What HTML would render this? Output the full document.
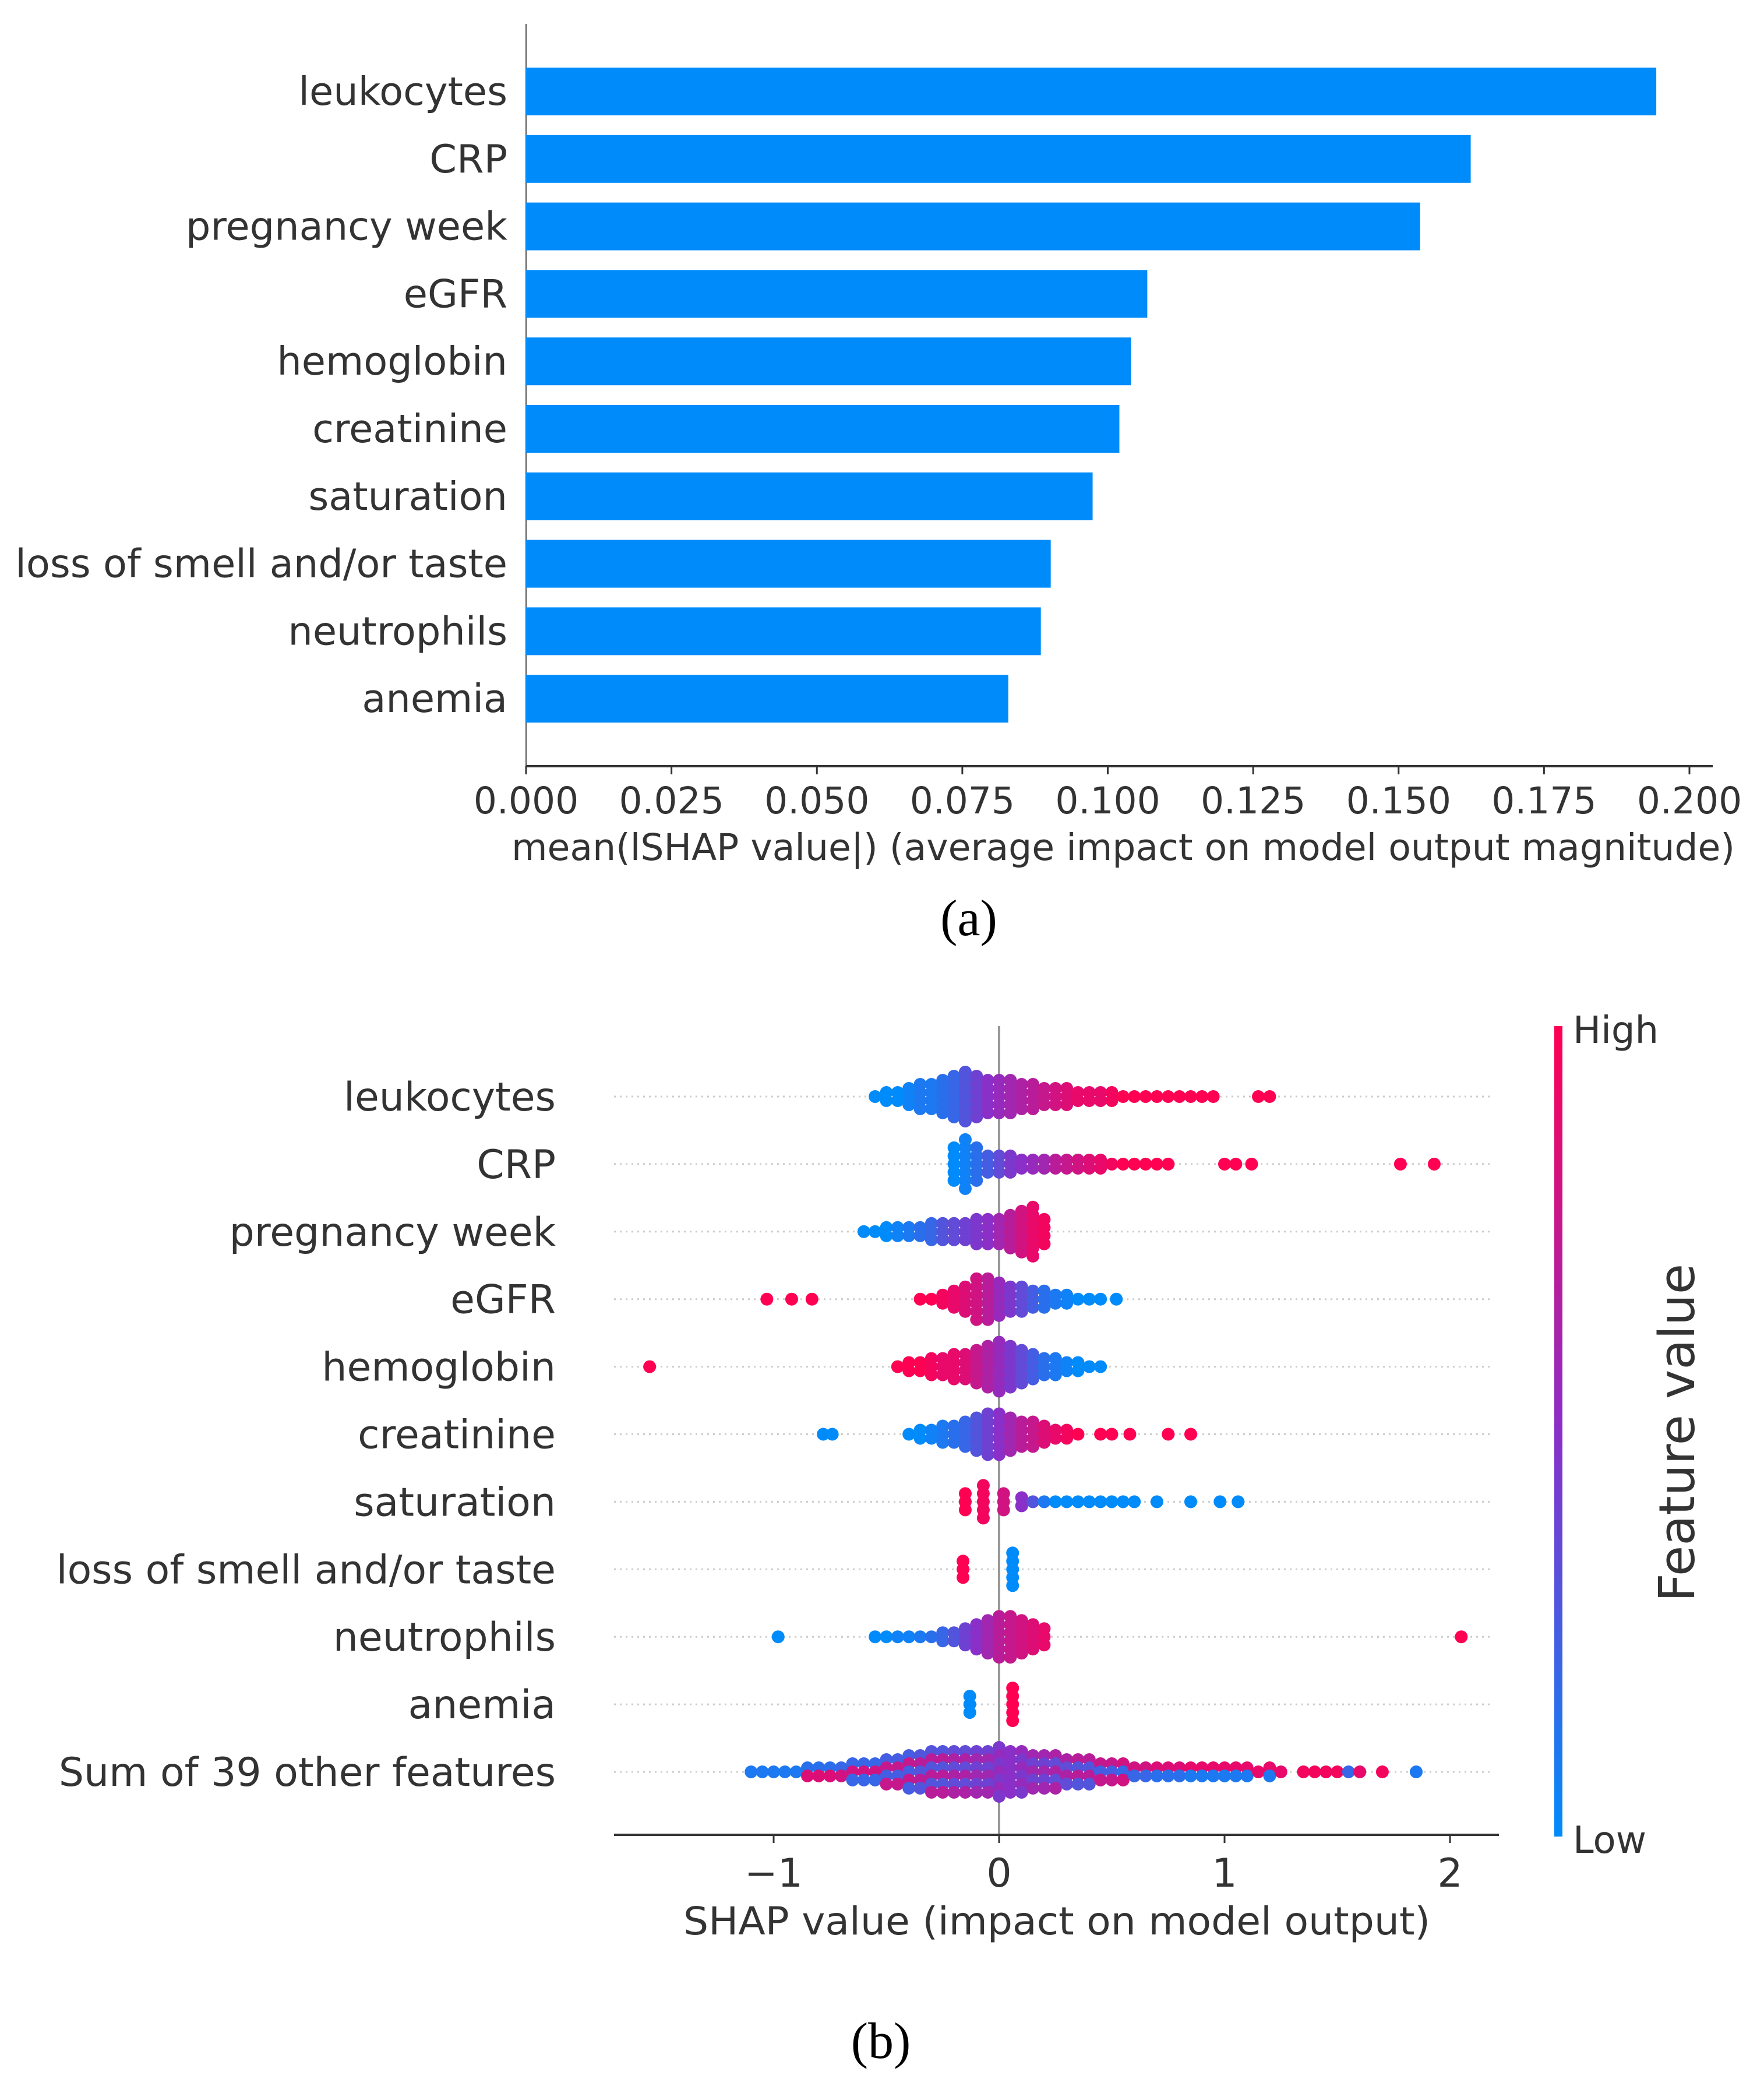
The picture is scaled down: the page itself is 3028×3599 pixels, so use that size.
<!DOCTYPE html>
<html><head><meta charset="utf-8">
<style>
html,body{margin:0;padding:0;background:#fff;}
svg{display:block;}
text{font-family:"DejaVu Sans","Liberation Sans",sans-serif;fill:#333;}
.serif{font-family:"Liberation Serif",serif;fill:#000;}
</style></head>
<body>
<svg id="fig" width="3028" height="3599" viewBox="0 0 3028 3599" xmlns="http://www.w3.org/2000/svg">
<defs>
<linearGradient id="cbar" x1="0" y1="1" x2="0" y2="0">
<stop offset="0" stop-color="rgb(0,139,251)"/>
<stop offset="0.5" stop-color="rgb(138,47,200)"/>
<stop offset="1" stop-color="rgb(255,0,82)"/>
</linearGradient>
</defs>
<g id="barChart"></g>
<g id="swarmChart"></g>
<text class="serif" x="1663" y="1605" font-size="88" text-anchor="middle">(a)</text>
<text class="serif" x="1512" y="3532" font-size="88" text-anchor="middle">(b)</text>
</svg>
<script>
// ---------- Panel (a) data ----------
const barFeatures = ["leukocytes","CRP","pregnancy week","eGFR","hemoglobin","creatinine","saturation","loss of smell and/or taste","neutrophils","anemia"];
const barValues = [0.1943,0.1624,0.1537,0.1068,0.1040,0.1020,0.0974,0.0902,0.0885,0.0829];
const barTicks = [0,0.025,0.05,0.075,0.1,0.125,0.15,0.175,0.2];
const barTickLabels = ["0.000","0.025","0.050","0.075","0.100","0.125","0.150","0.175","0.200"];

// ---------- Panel (b) data ----------
const swarmFeatures = ["leukocytes","CRP","pregnancy week","eGFR","hemoglobin","creatinine","saturation","loss of smell and/or taste","neutrophils","anemia","Sum of 39 other features"];
const swarmTicks = [-1,0,1,2];
const swarmTickLabels = ["\u22121","0","1","2"];
// each row: shap x bins, stack counts, feature value colour (0 low .. 1 high)
const rowX = [
 [-0.55,-0.5,-0.45,-0.4,-0.35,-0.3,-0.25,-0.2,-0.15,-0.1,-0.05,0,0.05,0.1,0.15,0.2,0.25,0.3,0.35,0.4,0.45,0.5,0.55,0.6,0.65,0.7,0.75,0.8,0.85,0.9,0.95,1.15,1.2],
 [-0.2,-0.15,-0.1,-0.05,0,0.05,0.1,0.15,0.2,0.25,0.3,0.35,0.4,0.45,0.5,0.55,0.6,0.65,0.7,0.75,1.0,1.05,1.12,1.78,1.93],
 [-0.6,-0.55,-0.5,-0.45,-0.4,-0.35,-0.3,-0.25,-0.2,-0.15,-0.1,-0.05,0,0.05,0.1,0.15,0.2],
 [-1.03,-0.92,-0.83,-0.35,-0.3,-0.25,-0.2,-0.15,-0.1,-0.05,0,0.05,0.1,0.15,0.2,0.25,0.3,0.35,0.4,0.45,0.52],
 [-1.55,-0.45,-0.4,-0.35,-0.3,-0.25,-0.2,-0.15,-0.1,-0.05,0,0.05,0.1,0.15,0.2,0.25,0.3,0.35,0.4,0.45],
 [-0.78,-0.74,-0.4,-0.35,-0.3,-0.25,-0.2,-0.15,-0.1,-0.05,0,0.05,0.1,0.15,0.2,0.25,0.3,0.35,0.45,0.5,0.58,0.75,0.85],
 [-0.15,-0.07,0.02,0.1,0.15,0.2,0.25,0.3,0.35,0.4,0.45,0.5,0.55,0.6,0.7,0.85,0.98,1.06],
 [-0.16,0.06],
 [-0.98,-0.55,-0.5,-0.45,-0.4,-0.35,-0.3,-0.25,-0.2,-0.15,-0.1,-0.05,0,0.05,0.1,0.15,0.2,2.05],
 [-0.13,0.06],
 [-1.1,-1.05,-1,-0.95,-0.9,-0.85,-0.8,-0.75,-0.7,-0.65,-0.6,-0.55,-0.5,-0.45,-0.4,-0.35,-0.3,-0.25,-0.2,-0.15,-0.1,-0.05,0,0.05,0.1,0.15,0.2,0.25,0.3,0.35,0.4,0.45,0.5,0.55,0.6,0.65,0.7,0.75,0.8,0.85,0.9,0.95,1,1.05,1.1,1.15,1.2,1.25,1.35,1.4,1.45,1.5,1.55,1.6,1.7,1.85]
];
const rowN = [
 [1,2,2,3,4,4,5,6,7,6,5,5,5,4,4,3,3,3,2,2,2,2,1,1,1,1,1,1,1,1,1,1,1],
 [5,7,5,3,3,3,2,2,2,2,2,2,2,2,1,1,1,1,1,1,1,1,1,1,1],
 [1,1,2,2,2,2,3,3,3,3,4,4,4,5,6,7,4],
 [1,1,1,1,1,2,3,4,6,6,5,4,4,3,3,2,2,1,1,1,1],
 [1,1,2,2,3,3,4,4,5,6,7,6,5,4,3,3,2,2,1,1],
 [1,1,1,2,2,3,3,4,5,6,6,5,4,4,3,2,2,1,1,1,1,1,1],
 [3,5,3,2,1,1,1,1,1,1,1,1,1,1,1,1,1,1],
 [3,5],
 [1,1,1,1,1,1,1,2,2,3,4,5,6,6,5,4,3,1],
 [3,5],
 [1,1,1,1,1,2,2,2,2,3,3,3,4,4,5,5,6,6,6,6,6,6,7,6,6,5,5,5,4,4,4,3,3,3,2,2,2,2,2,2,2,2,2,2,2,1,2,1,1,1,1,1,1,1,1,1]
];
const rowC = [
 [0,0,0,0.05,0.1,0.1,0.15,0.2,0.3,0.4,0.5,0.55,0.6,0.65,0.7,0.75,0.8,0.85,0.9,0.9,0.9,0.95,1,1,1,1,1,1,1,1,1,1,1],
 [0,0.05,0.15,0.25,0.35,0.45,0.5,0.55,0.6,0.7,0.75,0.8,0.85,0.9,0.95,1,1,1,1,1,1,1,1,1,1],
 [0,0,0,0.05,0.1,0.15,0.2,0.3,0.35,0.4,0.45,0.5,0.6,0.7,0.8,0.9,0.95],
 [1,1,1,1,1,0.95,0.9,0.85,0.8,0.7,0.55,0.45,0.35,0.25,0.15,0.1,0.05,0,0,0,0],
 [1,1,1,1,0.95,0.9,0.9,0.85,0.75,0.65,0.55,0.45,0.35,0.25,0.15,0.1,0.05,0,0,0],
 [0,0,0,0,0.05,0.1,0.15,0.2,0.3,0.4,0.5,0.6,0.7,0.75,0.85,0.9,0.95,1,1,1,1,1,1],
 [1,0.95,0.8,0.5,0.3,0.1,0,0,0,0,0,0,0,0,0,0,0,0],
 [1,0],
 [0,0,0,0.05,0.05,0.1,0.15,0.2,0.3,0.4,0.5,0.6,0.7,0.75,0.8,0.85,0.9,1],
 [0,1],
 [0.1,0.1,0.1,0.1,0.1,0.15,0.15,0.15,0.2,0.2,0.2,0.2,0.25,0.25,0.25,0.3,0.3,0.3,0.35,0.35,0.4,0.4,0.45,0.5,0.55,0.6,0.6,0.65,0.65,0.7,0.7,0.75,0.75,0.8,0.8,0.8,0.85,0.85,0.85,0.9,0.9,0.9,0.9,0.9,0.9,0.9,0.9,0.9,0.95,0.95,0.95,0.95,0.2,0.9,0.95,0.1]
];
const rowMixed = [false,false,false,false,false,false,false,false,false,false,true];

const NS = "http://www.w3.org/2000/svg";
function mk(parent, tag, attrs, txt){
  const e = document.createElementNS(NS, tag);
  for (const k in attrs) e.setAttribute(k, attrs[k]);
  if (txt !== undefined) e.textContent = txt;
  parent.appendChild(e);
  return e;
}
function colorFor(v){
  const s=[[0,139,251],[138,47,200],[255,0,82]];
  let a,b,t;
  if(v<0.5){a=s[0];b=s[1];t=v/0.5;}else{a=s[1];b=s[2];t=(v-0.5)/0.5;}
  return "rgb("+a.map((x,i)=>Math.round(x+(b[i]-x)*t)).join(",")+")";
}

// ---------- Panel (a) ----------
(function(){
  const g = document.getElementById("barChart");
  const x0=903, x1=2900, vmax=0.2;
  const xs = v => x0 + (v/vmax)*(x1-x0);
  const yTop=157, pitch=115.8, bh=82;
  const ys = i => yTop + i*pitch;
  let e = mk(g,"line",{x1:x0,y1:41,x2:x0,y2:1315,stroke:"#555","stroke-width":2});
   
  e = mk(g,"line",{x1:x0,y1:1315,x2:2940,y2:1315,stroke:"#333","stroke-width":4});
   
  barFeatures.forEach((f,i)=>{
    const r = mk(g,"rect",{x:x0,y:ys(i)-bh/2,width:xs(barValues[i])-x0,height:bh,fill:"#008bfb"});
    
    
    const t = mk(g,"text",{x:871,y:ys(i)+23,"font-size":67,"text-anchor":"end"},f);
    
    
  });
  barTicks.forEach((v,i)=>{
    const l = mk(g,"line",{x1:xs(v),y1:1315,x2:xs(v),y2:1329,stroke:"#333","stroke-width":3});
     
    const t = mk(g,"text",{x:xs(v),y:1396,"font-size":63,"text-anchor":"middle"},barTickLabels[i]);
     
  });
  const tt = mk(g,"text",{x:1928,y:1476,"font-size":63,"text-anchor":"middle",textLength:2100,lengthAdjust:"spacingAndGlyphs"},"mean(lSHAP value|) (average impact on model output magnitude)");
   
})();

// ---------- Panel (b) ----------
(function(){
  const g = document.getElementById("swarmChart");
  const zx=1715, unit=387;
  const xs = v => zx + v*unit;
  const yTop=1882, pitch=115.9;
  const ys = i => yTop + i*pitch;
  const axY=3149, r=11, sp=14;
  swarmFeatures.forEach((f,i)=>{
    const l = mk(g,"line",{x1:1054,y1:ys(i),x2:2562,y2:ys(i),stroke:"#ccc","stroke-width":3,"stroke-dasharray":"3 7"});
     
    const t = mk(g,"text",{x:954,y:ys(i)+24,"font-size":68,"text-anchor":"end"},f);
     
  });
  let e = mk(g,"line",{x1:zx,y1:1761,x2:zx,y2:axY,stroke:"#999","stroke-width":4});
   
  swarmFeatures.forEach((f,i)=>{
    const grp = mk(g,"g",{});
    
    
    rowX[i].forEach((v,j)=>{
      const n=rowN[i][j];
      for(let k=0;k<n;k++){
        const off=(k-(n-1)/2)*sp;
        let c=rowC[i][j];
        if(rowMixed[i] && k%2===1) c=1-c;
        const d = mk(grp,"circle",{cx:xs(v),cy:ys(i)+off,r:r,fill:colorFor(c)});
        
        
      }
    });
  });
  e = mk(g,"line",{x1:1054,y1:axY,x2:2573,y2:axY,stroke:"#333","stroke-width":4});
   
  swarmTicks.forEach((v,i)=>{
    const l = mk(g,"line",{x1:xs(v),y1:axY,x2:xs(v),y2:axY+14,stroke:"#333","stroke-width":3});
     
    const t = mk(g,"text",{x:xs(v),y:3238,"font-size":68,"text-anchor":"middle"},swarmTickLabels[i]);
     
  });
  const tt = mk(g,"text",{x:1814,y:3320,"font-size":66,"text-anchor":"middle",textLength:1282,lengthAdjust:"spacingAndGlyphs"},"SHAP value (impact on model output)");
   
  const cb = mk(g,"rect",{x:2668,y:1761,width:14,height:1391,fill:"url(#cbar)"});
   
  let t = mk(g,"text",{x:2700,y:1790,"font-size":64},"High");
   
  t = mk(g,"text",{x:2700,y:3180,"font-size":64},"Low");
   
  t = mk(g,"text",{x:2908,y:2459,"font-size":85,"text-anchor":"middle",transform:"rotate(-90 2908 2459)"},"Feature value");
   
})();
</script>
</body></html>
